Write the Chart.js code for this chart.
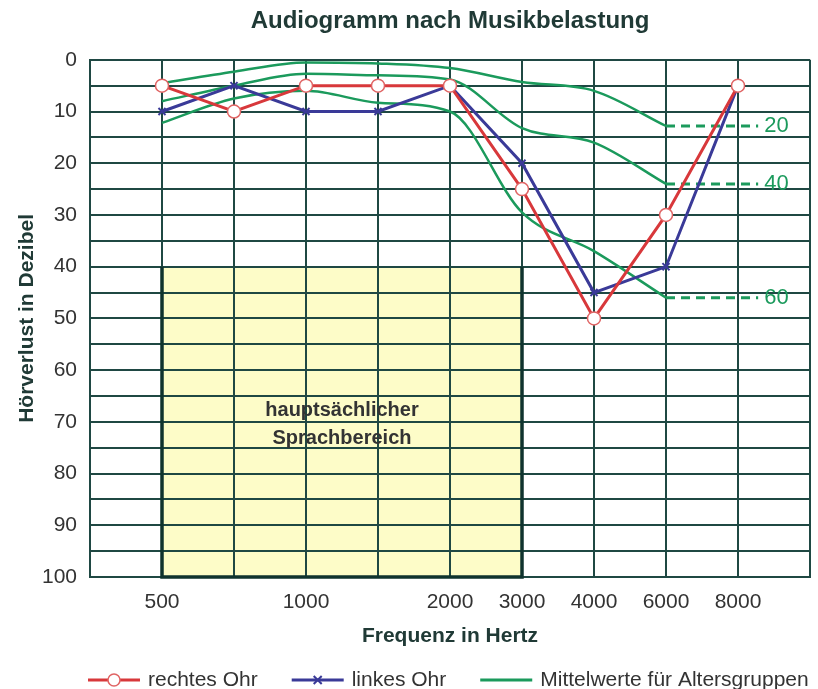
<!DOCTYPE html>
<html lang="de">
<head>
<meta charset="utf-8">
<title>Audiogramm nach Musikbelastung</title>
<script src="https://cdn.jsdelivr.net/npm/chart.js@4.4.1/dist/chart.umd.min.js"></script>
<style>
  html, body { margin: 0; padding: 0; background: #fff; }
  #wrap { width: 818px; height: 689px; position: relative; }
</style>
</head>
<body>
<div id="wrap"><canvas id="audioChart" width="818" height="689"></canvas></div>
<script>
/*** DATEN ***/
// Frequenzen in Hz, jede steht auf einer eigenen Gitterlinie (Index = x-Position)
var frequencies = [500, 750, 1000, 1500, 2000, 3000, 4000, 6000, 8000];
var freqTickLabels = ['500', '', '1000', '', '2000', '3000', '4000', '6000', '8000'];
var dbTickLabels = [0, 10, 20, 30, 40, 50, 60, 70, 80, 90, 100];

// Hörverlust in dB
var rightEar = [5, 10, 5, 5, 5, 25, 50, 30, 5];
var leftEar = [10, 5, 10, 10, 5, 20, 45, 40, 5];

// Mittelwerte für Altersgruppen (500 ... 6000 Hz)
var ageGroups = ['20', '40', '60'];
var age20 = [4.5, 2.3, 0.5, 0.7, 1.6, 4.3, 6, 12.8];
var age40 = [8, 5, 2.7, 3, 3.8, 13.2, 16, 24];
var age60 = [12.2, 7.5, 6, 8.3, 10, 29.5, 37, 46];

// hauptsächlicher Sprachbereich
var speechFreq = [500, 3000];
var speechDb = [40, 100];
var speechText = ['hauptsächlicher', 'Sprachbereich'];

/*** STIL ***/
var FONT = '"Liberation Sans", Arial, Helvetica, sans-serif';
var RED = '#d8383b';
var BLUE = '#3a3a98';
var GREEN = '#1b9a5c';
var GRID = '#1f4843';
var TEXT = '#333333';
var DARK = '#203a36';
var dashEnd = 8.28; // Ende der gestrichelten Verlängerung (Index-Einheiten)

function toPoints(values) {
    return values.map(function (v, i) { return { x: i, y: v }; });
}
function dashPoints(values) {
    var last = values[values.length - 1];
    return [{ x: values.length - 1, y: last }, { x: dashEnd, y: last }];
}
function freqIndex(f) { return frequencies.indexOf(f); }

function greenLine(label, values) {
    return {
        label: label, data: toPoints(values), borderColor: GREEN, backgroundColor: GREEN,
        borderWidth: 2.5, pointRadius: 0, cubicInterpolationMode: 'monotone', fill: false
    };
}
function greenDash(label, values) {
    return {
        label: label, data: dashPoints(values), borderColor: GREEN, backgroundColor: GREEN,
        borderWidth: 3, borderDash: [9, 6], pointRadius: 0, tension: 0, fill: false
    };
}

// Sprachbereich, Beschriftungen der Altersgruppen und Legende
var decorPlugin = {
    id: 'decor',
    beforeDraw: function (chart) {
        var ctx = chart.ctx, x = chart.scales.x, y = chart.scales.y;
        ctx.save();
        ctx.fillStyle = '#fff';
        ctx.fillRect(0, 0, chart.width, chart.height);
        var x0 = x.getPixelForValue(freqIndex(speechFreq[0]));
        var x1 = x.getPixelForValue(freqIndex(speechFreq[1]));
        var y0 = y.getPixelForValue(speechDb[0]);
        var y1 = y.getPixelForValue(speechDb[1]);
        ctx.fillStyle = '#fdfcc8';
        ctx.fillRect(x0, y0, x1 - x0, y1 - y0);
        ctx.restore();
    },
    beforeDatasetsDraw: function (chart) {
        var ctx = chart.ctx, x = chart.scales.x, y = chart.scales.y;
        var x0 = x.getPixelForValue(freqIndex(speechFreq[0]));
        var x1 = x.getPixelForValue(freqIndex(speechFreq[1]));
        var y0 = y.getPixelForValue(speechDb[0]);
        var y1 = y.getPixelForValue(speechDb[1]);
        ctx.save();
        ctx.strokeStyle = '#0f332e';
        ctx.lineWidth = 3.5;
        ctx.beginPath();
        ctx.moveTo(x0, y0); ctx.lineTo(x0, y1); ctx.lineTo(x1, y1); ctx.lineTo(x1, y0);
        ctx.stroke();
        ctx.fillStyle = TEXT;
        ctx.font = 'bold 20px ' + FONT;
        ctx.textAlign = 'center';
        ctx.textBaseline = 'middle';
        var cx = (x0 + x1) / 2;
        ctx.fillText(speechText[0], cx, y.getPixelForValue(67.8));
        ctx.fillText(speechText[1], cx, y.getPixelForValue(73.3));
        ctx.restore();
    },
    afterDatasetsDraw: function (chart) {
        var ctx = chart.ctx, x = chart.scales.x, y = chart.scales.y;
        var groups = [age20, age40, age60];
        ctx.save();
        ctx.fillStyle = GREEN;
        ctx.font = '22px ' + FONT;
        ctx.textAlign = 'left';
        ctx.textBaseline = 'middle';
        groups.forEach(function (g, i) {
            ctx.fillText(ageGroups[i], x.getPixelForValue(dashEnd) + 6, y.getPixelForValue(g[g.length - 1]));
        });
        ctx.restore();
    },
    afterDraw: function (chart) {
        var ctx = chart.ctx;
        var items = chart.data.datasets.slice(0, 3);
        var px = 88, py = 680;
        ctx.save();
        ctx.font = '21px ' + FONT;
        ctx.textBaseline = 'middle';
        ctx.textAlign = 'left';
        items.forEach(function (ds) {
            ctx.strokeStyle = ds.borderColor;
            ctx.lineWidth = 3;
            ctx.setLineDash([]);
            ctx.beginPath();
            ctx.moveTo(px, py); ctx.lineTo(px + 52, py);
            ctx.stroke();
            var mx = px + 26;
            if (ds.pointStyle === 'circle') {
                ctx.beginPath();
                ctx.arc(mx, py, 6, 0, Math.PI * 2);
                ctx.fillStyle = '#fff';
                ctx.fill();
                ctx.lineWidth = 1.5;
                ctx.strokeStyle = ds.pointBorderColor;
                ctx.stroke();
            } else if (ds.pointStyle === 'crossRot') {
                ctx.lineWidth = 2;
                ctx.beginPath();
                ctx.moveTo(mx - 4, py - 4); ctx.lineTo(mx + 4, py + 4);
                ctx.moveTo(mx + 4, py - 4); ctx.lineTo(mx - 4, py + 4);
                ctx.stroke();
            }
            ctx.fillStyle = TEXT;
            ctx.fillText(ds.label, px + 60, py);
            px += 60 + ctx.measureText(ds.label).width + 34;
        });
        ctx.restore();
    }
};

var ctx = document.getElementById('audioChart');

var audioChart = new Chart(ctx, {
    type: 'line',
    data: {
        datasets: [{
            label: 'rechtes Ohr',
            data: toPoints(rightEar),
            borderColor: RED,
            backgroundColor: '#fff',
            borderWidth: 3,
            pointStyle: 'circle',
            pointRadius: 6.5,
            pointBackgroundColor: '#fff',
            pointBorderColor: '#e06464',
            pointBorderWidth: 1.5,
            tension: 0
        }, {
            label: 'linkes Ohr',
            data: toPoints(leftEar),
            borderColor: BLUE,
            backgroundColor: BLUE,
            borderWidth: 3,
            pointStyle: 'crossRot',
            pointRadius: 5,
            pointBorderColor: BLUE,
            pointBorderWidth: 2,
            tension: 0
        },
            greenLine('Mittelwerte für Altersgruppen', age20),
            greenLine('40', age40),
            greenLine('60', age60),
            greenDash('20', age20),
            greenDash('40', age40),
            greenDash('60', age60)
        ]
    },
    options: {
        responsive: false,
        animation: false,
        events: [],
        layout: { padding: { left: 0, right: 4, top: 0, bottom: 40 } },
        plugins: {
            legend: { display: false },
            tooltip: { enabled: false },
            title: {
                display: true,
                text: 'Audiogramm nach Musikbelastung',
                fullSize: false,
                color: DARK,
                font: { family: FONT, size: 24, weight: 'bold' },
                padding: { top: 7, bottom: 24 }
            }
        },
        scales: {
            x: {
                type: 'linear',
                min: -1,
                max: 9,
                afterFit: function (scale) {
                    scale.height = 72;
                    scale.paddingLeft = 0;
                    scale.paddingRight = 0;
                },
                grid: { color: GRID, lineWidth: 2, drawTicks: false },
                border: { color: GRID, width: 2 },
                ticks: {
                    stepSize: 1,
                    autoSkip: false,
                    maxRotation: 0,
                    padding: 13,
                    color: TEXT,
                    font: { family: FONT, size: 21 },
                    callback: function (v) { return freqTickLabels[v] || ''; }
                },
                title: {
                    display: true,
                    text: 'Frequenz in Hertz',
                    color: DARK,
                    font: { family: FONT, size: 21, weight: 'bold' },
                    padding: { top: 0, bottom: 0 }
                }
            },
            y: {
                reverse: true,
                min: 0,
                max: 100,
                afterFit: function (scale) { scale.width = 90; },
                grid: { color: GRID, lineWidth: 2, drawTicks: false },
                border: { color: GRID, width: 2 },
                ticks: {
                    stepSize: 5,
                    autoSkip: false,
                    padding: 13,
                    color: TEXT,
                    font: { family: FONT, size: 21 },
                    callback: function (v) { return dbTickLabels.indexOf(v) >= 0 ? String(v) : ''; }
                },
                title: {
                    display: true,
                    text: 'Hörverlust in Dezibel',
                    color: DARK,
                    font: { family: FONT, size: 21, weight: 'bold' },
                    padding: { top: 15, bottom: 0 }
                }
            }
        }
    },
    plugins: [decorPlugin]
});
</script>
</body>
</html>
